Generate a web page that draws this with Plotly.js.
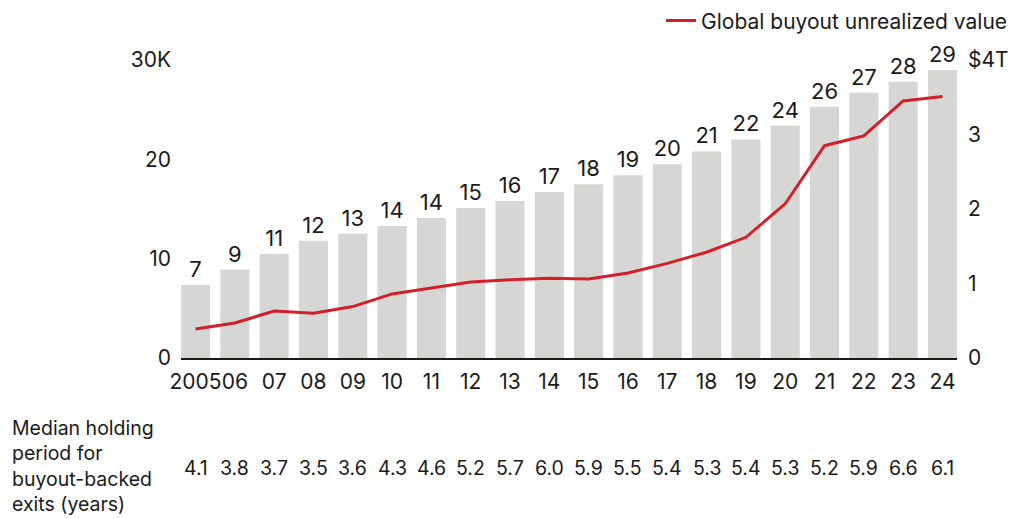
<!DOCTYPE html>
<html>
<head>
<meta charset="utf-8">
<script src="https://cdn.plot.ly/plotly-3.0.1.min.js"></script>
<style>html,body{margin:0;padding:0;background:#fff;}#chart{width:1013px;height:519px;}</style>
</head>
<body>
<div id="chart"></div>
<script>
// Categories (years)
var years = ['2005','06','07','08','09','10','11','12','13','14','15','16','17','18','19','20','21','22','23','24'];
// Bar heights (thousands)
var exitsBacklog = [7.35, 8.9, 10.5, 11.8, 12.5, 13.3, 14.1, 15.1, 15.8, 16.7, 17.5, 18.4, 19.5, 20.8, 22.0, 23.4, 25.3, 26.7, 27.8, 29.0];
// Bar labels as printed
var barLabels = ['7','9','11','12','13','14','14','15','16','17','18','19','20','21','22','24','26','27','28','29'];
// Global buyout unrealized value ($T)
var unrealizedValue = [0.39, 0.47, 0.63, 0.60, 0.69, 0.86, 0.94, 1.02, 1.05, 1.07, 1.06, 1.14, 1.27, 1.42, 1.62, 2.07, 2.85, 2.98, 3.45, 3.51];
// Median holding period (years)
var holdingPeriod = ['4.1','3.8','3.7','3.5','3.6','4.3','4.6','5.2','5.7','6.0','5.9','5.5','5.4','5.3','5.4','5.3','5.2','5.9','6.6','6.1'];
// Tick labels
var leftTickVals = [0, 10, 20, 30];
var leftTickText = ['0', '10', '20', '30K'];
var rightTickVals = [0, 1, 2, 3, 4];
var rightTickText = ['0', '1', '2', '3', '$4T'];

var FONT = 'Inter, "Noto Sans", sans-serif';
var INK = '#1a1a1a';

var bars = {
  type: 'bar',
  x: years,
  y: exitsBacklog,
  text: barLabels,
  texttemplate: '%{text}',
  textposition: 'outside',
  textfont: {family: FONT, size: 22, color: INK},
  cliponaxis: false,
  marker: {color: '#d6d6d4'},
  showlegend: false,
  hoverinfo: 'skip'
};

var line = {
  type: 'scatter',
  mode: 'lines',
  x: years,
  y: unrealizedValue,
  yaxis: 'y2',
  name: 'Global buyout unrealized value',
  line: {color: '#d2202b', width: 3},
  cliponaxis: false
};

var annotations = years.map(function (yr, i) {
  return {
    xref: 'x', yref: 'paper',
    x: i, y: -0.369,
    text: holdingPeriod[i],
    showarrow: false,
    xanchor: 'center', yanchor: 'middle',
    font: {family: FONT, size: 19.5, color: INK}
  };
});
annotations.push({
  xref: 'paper', yref: 'paper',
  x: -0.221, y: -0.362,
  text: 'Median holding<br>period for<br>buyout-backed<br>exits (years)',
  showarrow: false,
  xanchor: 'left', yanchor: 'middle', align: 'left',
  font: {family: FONT, size: 19.5, color: INK}
});

var layout = {
  width: 1013, height: 519,
  margin: {l: 181, r: 56, t: 60, b: 161, autoexpand: false},
  paper_bgcolor: '#fff', plot_bgcolor: '#fff',
  font: {family: FONT, color: INK, size: 20},
  bargap: 0.26,
  xaxis: {
    type: 'category',
    range: [-0.37, 19.37],
    showline: true, linecolor: INK, linewidth: 2,
    showgrid: false, zeroline: false,
    ticks: '', ticklabelstandoff: 4, tickangle: 0,
    tickfont: {family: FONT, size: 21, color: INK},
    fixedrange: true
  },
  yaxis: {
    range: [0, 30],
    tickvals: leftTickVals, ticktext: leftTickText,
    showgrid: false, zeroline: false, showline: false,
    ticks: '', ticklabelstandoff: 9,
    tickfont: {family: FONT, size: 21, color: INK},
    fixedrange: true
  },
  yaxis2: {
    range: [0, 4],
    overlaying: 'y', side: 'right',
    tickvals: rightTickVals, ticktext: rightTickText,
    showgrid: false, zeroline: false, showline: false,
    ticks: '', ticklabelstandoff: 10,
    tickfont: {family: FONT, size: 21, color: INK},
    fixedrange: true
  },
  showlegend: true,
  legend: {
    orientation: 'h',
    x: 1.071, xanchor: 'right',
    y: 1.131, yanchor: 'middle',
    font: {family: FONT, size: 21, color: INK},
    itemwidth: 30,
    bgcolor: 'rgba(0,0,0,0)'
  },
  annotations: annotations
};

Plotly.newPlot('chart', [bars, line], layout, {displayModeBar: false, staticPlot: true});
</script>
</body>
</html>
